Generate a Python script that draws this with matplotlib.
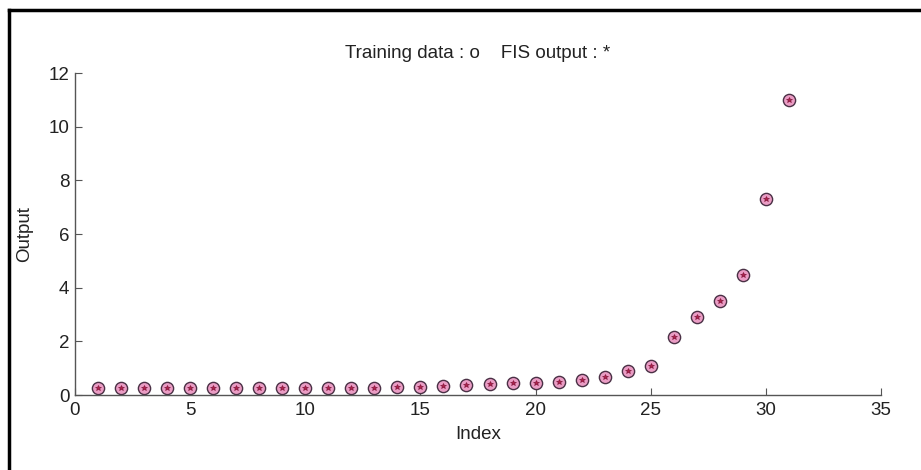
import matplotlib
matplotlib.use("Agg")
import matplotlib.pyplot as plt
from matplotlib.lines import Line2D

index = list(range(1, 32))
training = [0.25, 0.25, 0.25, 0.25, 0.25, 0.25, 0.25, 0.25, 0.25, 0.26,
            0.26, 0.26, 0.27, 0.29, 0.31, 0.34, 0.37, 0.40, 0.43, 0.46,
            0.50, 0.56, 0.66, 0.88, 1.08, 2.18, 2.90, 3.50, 4.48, 7.30, 11.0]
fis_output = list(training)

xticks = [0, 5, 10, 15, 20, 25, 30, 35]
yticks = [0, 2, 4, 6, 8, 10, 12]

plt.rcParams['font.family'] = ['Liberation Sans', 'DejaVu Sans']

fig = plt.figure(figsize=(9.21, 4.70), dpi=100)
fig.patch.set_facecolor('white')
ax = fig.add_axes([75/921, 1-395/470, (881-75)/921, (395-73)/470])

ax.plot(index, training, linestyle='none', marker='o', markersize=8.8,
        markerfacecolor='#ea9cc4', markeredgecolor='#4a3045', markeredgewidth=1.0)
ax.plot(index, fis_output, linestyle='none', marker='*', markersize=4,
        markerfacecolor='#b0204a', markeredgecolor='#7a1035', markeredgewidth=0.4)

ax.set_xlim(0, 35)
ax.set_ylim(0, 12)
ax.set_xticks(xticks)
ax.set_yticks(yticks)
ax.tick_params(direction='in', length=5, width=0.8, color='#555555', labelsize=13.5,
               labelcolor='#222222')
ax.tick_params(axis='x', pad=5)
ax.tick_params(axis='y', pad=4)
for s in ['top', 'right']:
    ax.spines[s].set_visible(False)
for s in ['left', 'bottom']:
    ax.spines[s].set_color('#555555')
    ax.spines[s].set_linewidth(1.0)

ax.set_xlabel('Index', fontsize=13.5, color='#222222', labelpad=5)
ax.set_ylabel('Output', fontsize=13.5, color='#222222', labelpad=11)
ax.set_title('Training data : o    FIS output : *', fontsize=13.5, color='#222222', pad=11)

# outer frame lines (top and left)
fig.add_artist(Line2D([9/921, 1.0], [1-10/470, 1-10/470], color='black', lw=2.5, transform=fig.transFigure))
fig.add_artist(Line2D([9/921, 9/921], [0.0, 1-10/470], color='black', lw=2.5, transform=fig.transFigure))

fig.savefig('out.png', dpi=100, facecolor='white')
